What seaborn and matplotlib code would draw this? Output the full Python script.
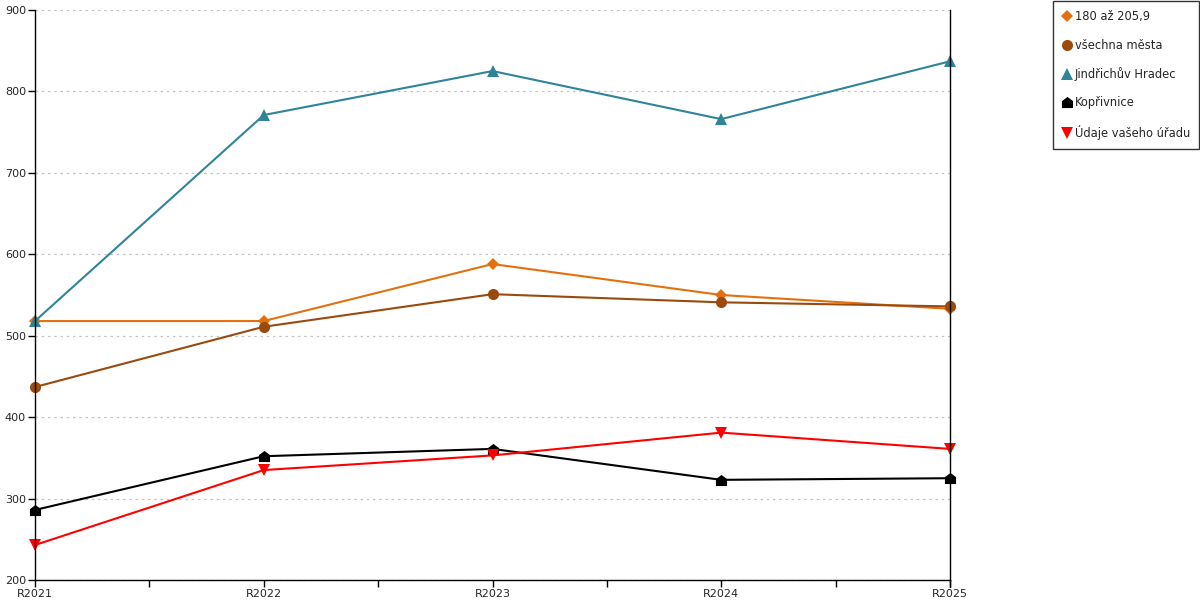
import matplotlib
matplotlib.use("Agg")
import matplotlib.pyplot as plt
import seaborn as sns
import pandas as pd
from matplotlib.path import Path
from matplotlib.lines import Line2D

years = ["R2021", "R2022", "R2023", "R2024", "R2025"]
s_180 = [518, 518, 588, 550, 533]
s_all = [437, 511, 551, 541, 536]
s_jh = [518, 771, 825, 766, 837]
s_kop = [286, 352, 361, 323, 325]
s_urad = [243, 335, 353, 381, 361]

names = ["180 až 205,9", "všechna města", "Jindřichův Hradec", "Kopřivnice", "Údaje vašeho úřadu"]
values = [s_180, s_all, s_jh, s_kop, s_urad]
colors = ["#E2700F", "#9A4A0C", "#2F8499", "#000000", "#FF0000"]

house = Path([(-1, -1), (1, -1), (1, 0.25), (0, 1), (-1, 0.25), (-1, -1)],
             [Path.MOVETO, Path.LINETO, Path.LINETO, Path.LINETO, Path.LINETO, Path.CLOSEPOLY])
markers = ["D", "o", "^", house, "v"]
msizes = [6, 8, 8, 8, 8]

rows = []
for n, v in zip(names, values):
    for i, (y, val) in enumerate(zip(years, v)):
        rows.append({"pos": i, "year": y, "value": val, "series": n})
df = pd.DataFrame(rows)

sns.set_style("white")
plt.rcParams['font.family'] = ['DejaVu Sans']

fig = plt.figure(figsize=(12, 6), dpi=100)
ax = fig.add_axes([35/1200, 20/600, 915/1200, 570/600])

handles = []
for n, c, m, ms in zip(names, colors, markers, msizes):
    sub = df[df["series"] == n]
    sns.lineplot(data=sub, x="pos", y="value", ax=ax, color=c, marker=m,
                 markersize=ms, markeredgewidth=0, linewidth=1.5, clip_on=False,
                 legend=False)
    handles.append(Line2D([], [], color=c, marker=m, linestyle="none",
                          markersize=ms, markeredgewidth=0))

ax.set_xlim(0, len(years) - 1)
ax.set_ylim(200, 900)
ax.set_xticks([i * 0.5 for i in range(2 * len(years) - 1)])
ax.set_xticklabels([years[i // 2] if i % 2 == 0 else "" for i in range(2 * len(years) - 1)])
ax.set_yticks(range(200, 901, 100))
ax.tick_params(axis="both", direction="out", length=5, width=1, color="black",
               labelsize=8, pad=1.5, bottom=True, left=True)
ax.set_xlabel("")
ax.set_ylabel("")
ax.yaxis.grid(True, linestyle=(0, (2, 3)), color="#C4C4C4", linewidth=0.9)
ax.xaxis.grid(False)

for side in ["left", "bottom", "right"]:
    ax.spines[side].set_visible(True)
    ax.spines[side].set_color("black")
    ax.spines[side].set_linewidth(1)
ax.spines["top"].set_visible(False)
ax.plot([1, 1], [0, -0.012], transform=ax.transAxes, color="black", linewidth=1, clip_on=False)

leg = fig.legend(handles, names, loc="upper left", bbox_to_anchor=(1053/1200, 0.998),
                 frameon=True, fontsize=8.3, handletextpad=0.3, handlelength=0.8,
                 labelspacing=1.33, borderpad=0.8, borderaxespad=0.0, fancybox=False)
leg.get_frame().set_edgecolor("black")
leg.get_frame().set_linewidth(1)
leg.get_frame().set_boxstyle("square", pad=0)

fig.savefig("out.png", dpi=100)
